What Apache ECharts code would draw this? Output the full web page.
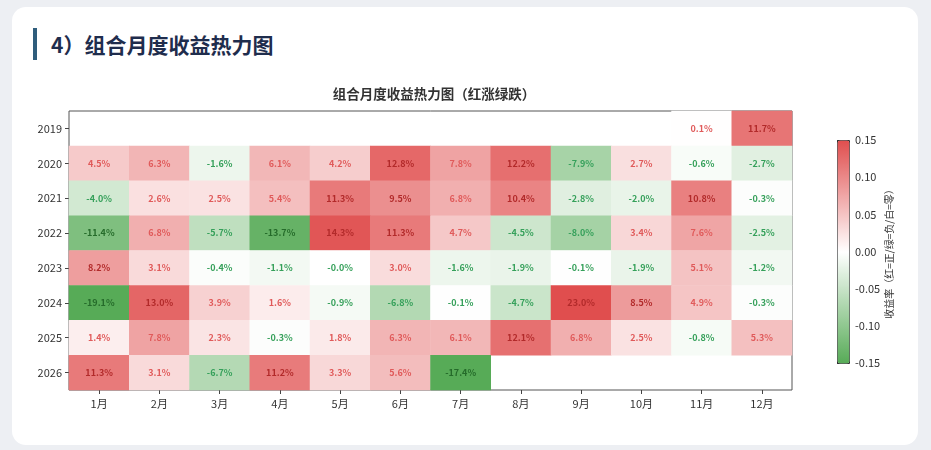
<!DOCTYPE html>
<html>
<head>
<meta charset="utf-8">
<script src="https://cdn.jsdelivr.net/npm/echarts@6/dist/echarts.min.js"></script>
<style>
  html, body { margin: 0; padding: 0; background: #edeff3; width: 931px; height: 450px; overflow: hidden; }
  .card { position: absolute; left: 12px; top: 7px; width: 906px; height: 438px; background: #fff; border-radius: 14px; }
  .head { position: absolute; left: 33px; top: 28px; height: 32px; border-left: 4px solid #2f5d7c; padding-left: 14px;
          font: bold 21px "Noto Sans CJK SC", "Noto Sans", sans-serif; color: #1f2d4d; line-height: 32px; }
  #chart { position: absolute; left: 0; top: 0; width: 931px; height: 450px; }
</style>
</head>
<body>
<div class="card"></div>
<div class="head">4）组合月度收益热力图</div>
<div id="chart"></div>
<script>
var years = ['2019', '2020', '2021', '2022', '2023', '2024', '2025', '2026'];
var months = ['1月', '2月', '3月', '4月', '5月', '6月', '7月', '8月', '9月', '10月', '11月', '12月'];
// 月度收益 (%)，null 表示无数据
var r2019 = [null, null, null, null, null, null, null, null, null, null, 0.1, 11.7];
var r2020 = [4.5, 6.3, -1.6, 6.1, 4.2, 12.8, 7.8, 12.2, -7.9, 2.7, -0.6, -2.7];
var r2021 = [-4.0, 2.6, 2.5, 5.4, 11.3, 9.5, 6.8, 10.4, -2.8, -2.0, 10.8, -0.3];
var r2022 = [-11.4, 6.8, -5.7, -13.7, 14.3, 11.3, 4.7, -4.5, -8.0, 3.4, 7.6, -2.5];
var r2023 = [8.2, 3.1, -0.4, -1.1, -0.02, 3.0, -1.6, -1.9, -0.1, -1.9, 5.1, -1.2];
var r2024 = [-19.1, 13.0, 3.9, 1.6, -0.9, -6.8, -0.1, -4.7, 23.0, 8.5, 4.9, -0.3];
var r2025 = [1.4, 7.8, 2.3, -0.3, 1.8, 6.3, 6.1, 12.1, 6.8, 2.5, -0.8, 5.3];
var r2026 = [11.3, 3.1, -6.7, 11.2, 3.3, 5.6, -17.4, null, null, null, null, null];
var returns = [r2019, r2020, r2021, r2022, r2023, r2024, r2025, r2026];
var barTicks = [-15, -10, -5, 0, 5, 10, 15];

function labelColor(v) {
    if (v >= 0) return v > 8 ? '#b22a2a' : '#e05a5a';
    return v < -8 ? '#256b2a' : '#35a05a';
}

var cells = [];
returns.forEach(function (row, yi) {
    row.forEach(function (v, xi) {
        if (v === null) return;
        cells.push({
            value: [xi, yi, v / 100],
            label: { color: labelColor(v) }
        });
    });
});

var chart = echarts.init(document.getElementById('chart'), null, { renderer: 'canvas' });
var font = '"Noto Sans CJK SC", "DejaVu Sans", sans-serif';

var option = {
    backgroundColor: 'transparent',
    textStyle: { fontFamily: font },
    title: {
        text: '组合月度收益热力图（红涨绿跌）',
        left: 429,
        textAlign: 'center',
        top: 82,
        textStyle: { fontSize: 13.5, fontWeight: 'bold', color: '#333', fontFamily: font }
    },
    grid: [
        { left: 69, top: 111, width: 723, height: 279, show: true, borderColor: '#555', borderWidth: 1, backgroundColor: '#fff' },
        { left: 837, top: 140, width: 12, height: 223, show: false }
    ],
    xAxis: [
        {
            type: 'category', data: months, gridIndex: 0,
            axisLine: { show: false },
            axisTick: { show: true, alignWithLabel: true, length: 4, lineStyle: { color: '#444' } },
            axisLabel: { fontSize: 11, color: '#333', margin: 8 },
            splitArea: { show: false }
        },
        { type: 'value', gridIndex: 1, show: false, min: 0, max: 1 }
    ],
    yAxis: [
        {
            type: 'category', data: years, gridIndex: 0, inverse: true,
            axisLine: { show: false },
            axisTick: { show: true, alignWithLabel: true, length: 4, lineStyle: { color: '#444' } },
            axisLabel: { fontSize: 11, color: '#333', margin: 7 }
        },
        {
            type: 'value', gridIndex: 1, position: 'right',
            min: barTicks[0], max: barTicks[barTicks.length - 1], interval: 5,
            axisLine: { show: false },
            axisTick: { show: true, length: 4, lineStyle: { color: '#444' } },
            splitLine: { show: false },
            axisLabel: { fontSize: 11, color: '#333', margin: 6, formatter: function (v) { return (v / 100).toFixed(2); } },
            name: '收益率（红=正/绿=负/白=零）',
            nameLocation: 'middle',
            nameRotate: 90,
            nameGap: 35,
            nameTextStyle: { fontSize: 10, color: '#333' }
        }
    ],
    visualMap: {
        type: 'continuous',
        seriesIndex: 0,
        min: -0.15,
        max: 0.15,
        calculable: false,
        realtime: false,
        hoverLink: false,
        orient: 'vertical',
        left: 837,
        top: 140,
        itemWidth: 12,
        itemHeight: 223,
        padding: 0,
        text: null,
        borderColor: '#333',
        borderWidth: 1,
        inRange: { color: ['#57ab57', '#ffffff', '#e04e4e'] }
    },
    series: [
        {
            type: 'heatmap',
            xAxisIndex: 0,
            yAxisIndex: 0,
            data: cells,
            label: {
                show: true,
                fontSize: 9,
                fontWeight: 'bold',
                formatter: function (p) { return (p.value[2] * 100).toFixed(1) + '%'; }
            },
            itemStyle: { borderWidth: 0 },
            emphasis: { disabled: true }
        },
        {
            type: 'scatter',
            xAxisIndex: 1,
            yAxisIndex: 1,
            data: []
        }
    ]
};
chart.setOption(option);
</script>
</body>
</html>
